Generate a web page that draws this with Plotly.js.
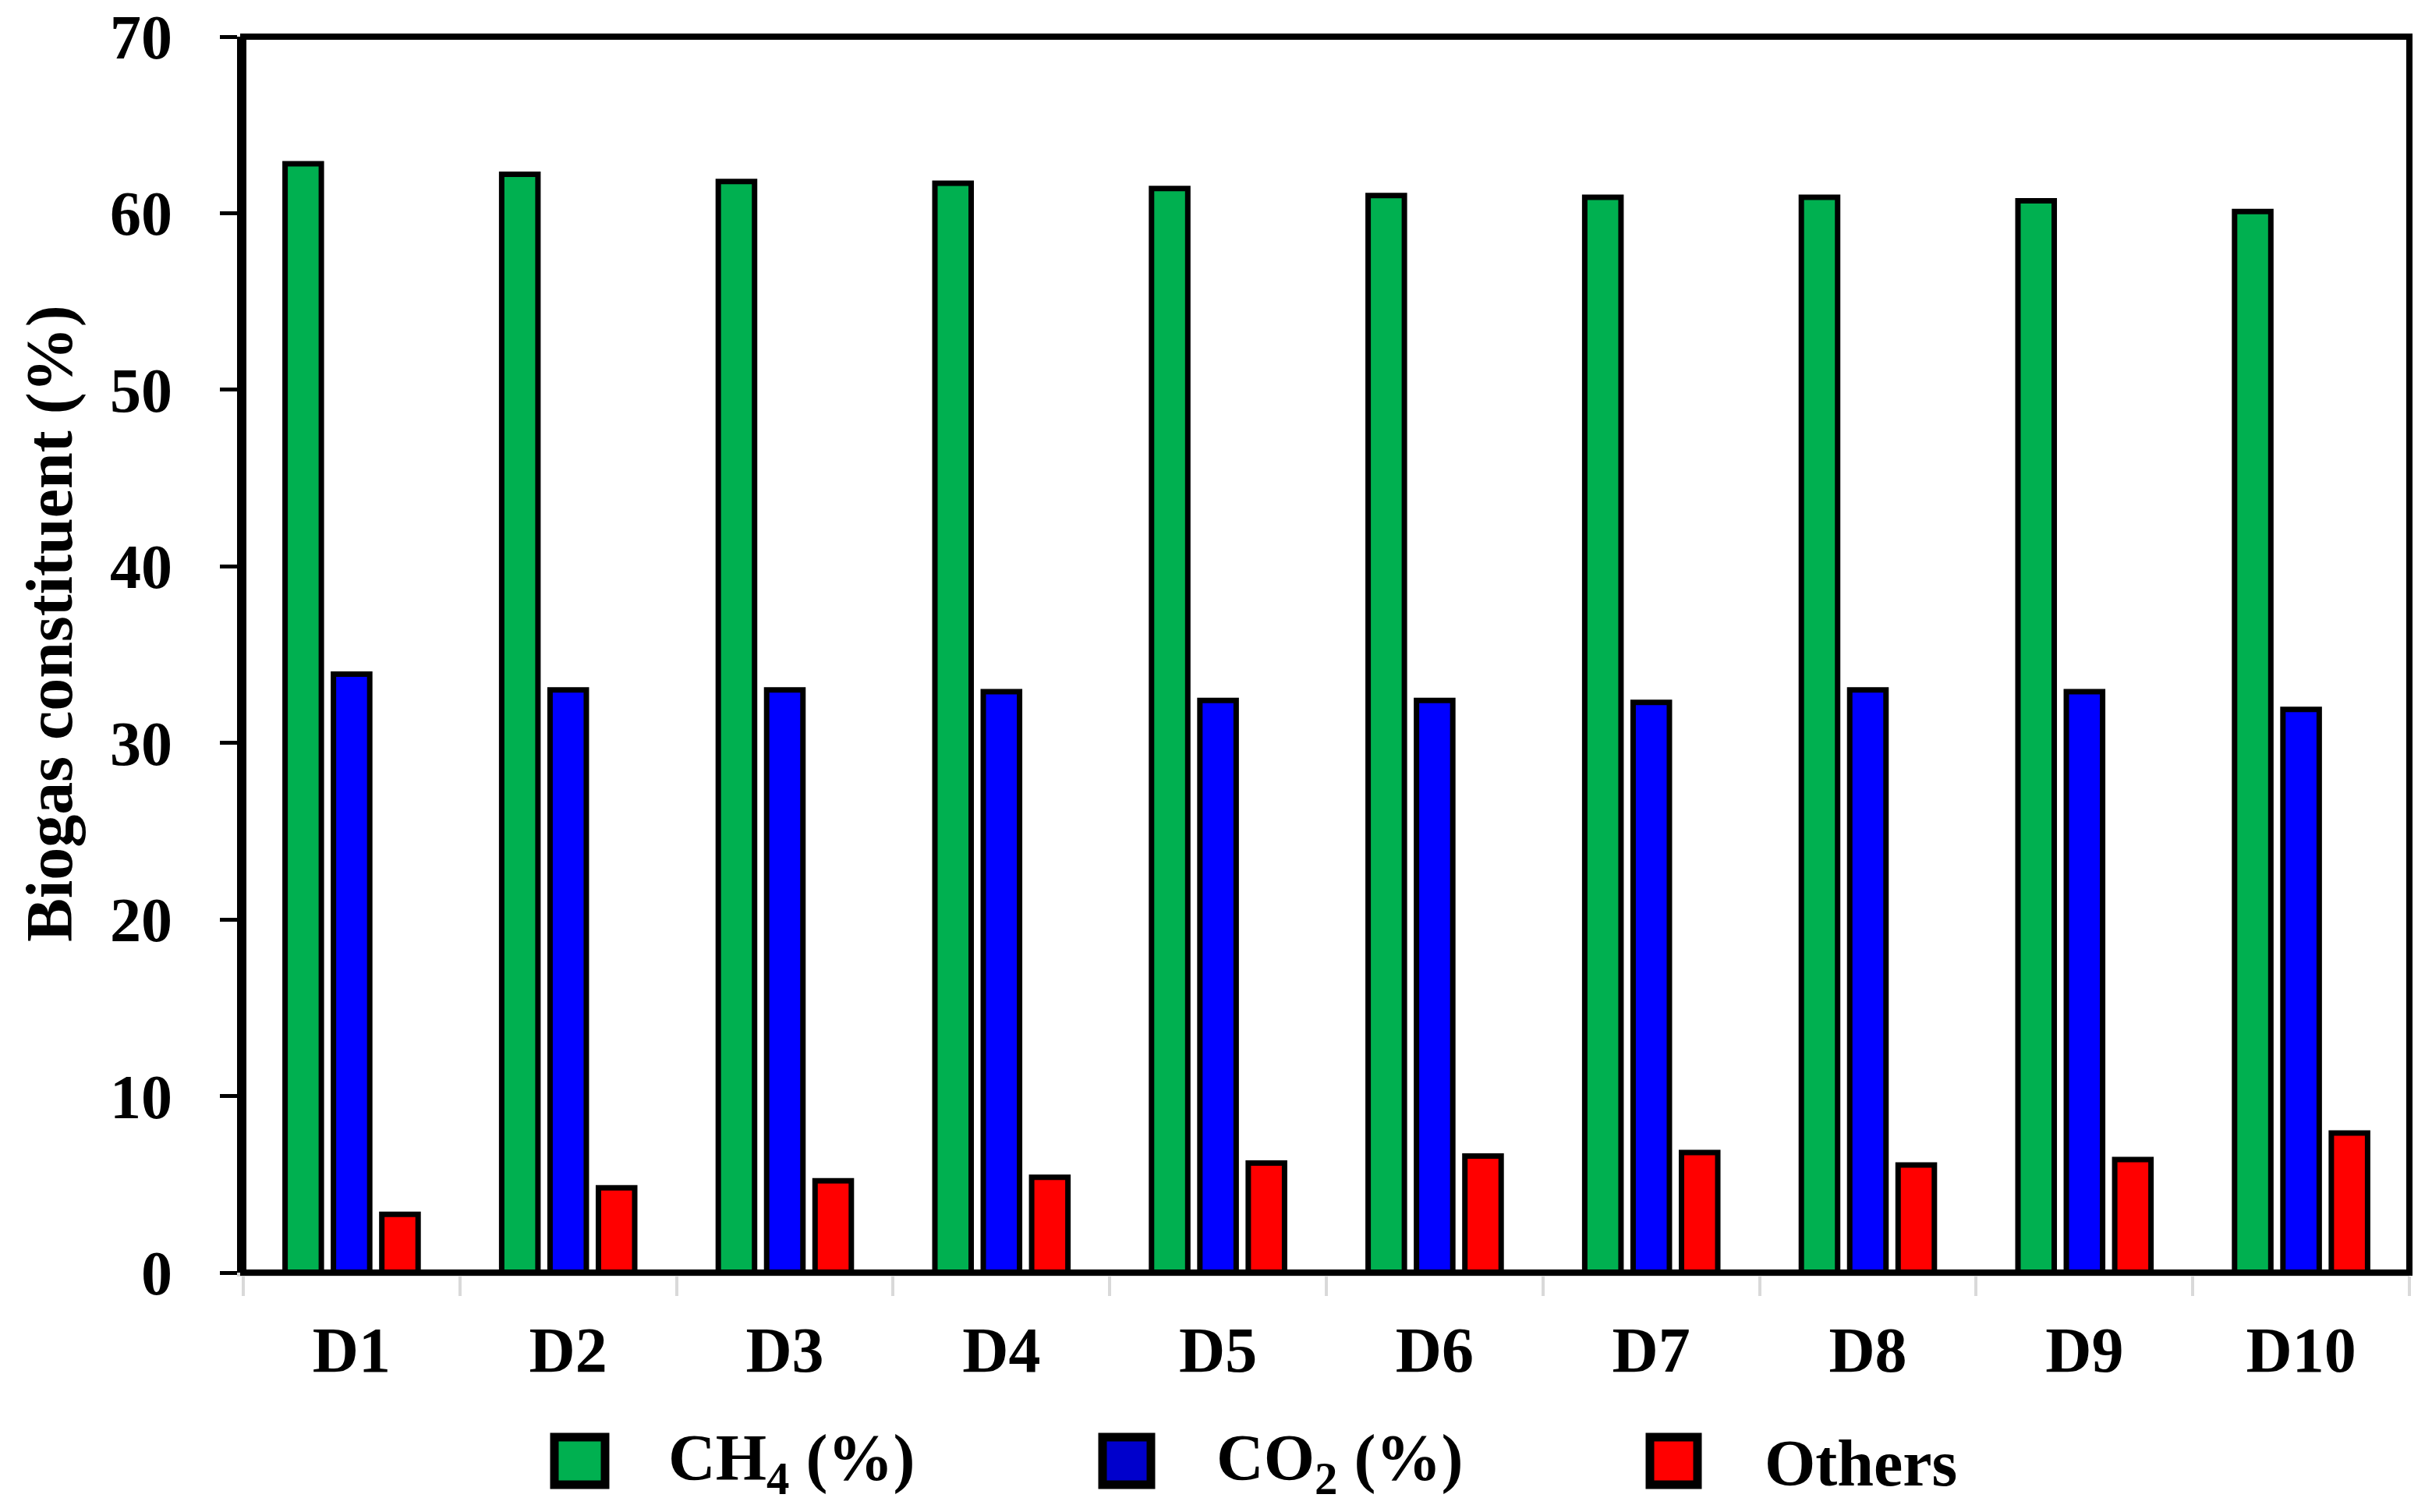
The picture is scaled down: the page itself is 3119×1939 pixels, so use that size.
<!DOCTYPE html>
<html>
<head>
<meta charset="utf-8">
<script src="https://cdn.plot.ly/plotly-3.0.1.min.js"></script>
<style>html,body{margin:0;padding:0;background:#fff;}#chart{width:3119px;height:1939px;}</style>
</head>
<body>
<div id="chart"></div>
<script>
// ---- data ----
const categories = ["D1","D2","D3","D4","D5","D6","D7","D8","D9","D10"];
const ch4 = [62.8, 62.2, 61.8, 61.7, 61.4, 61.0, 60.9, 60.9, 60.7, 60.1];
const co2 = [33.9, 33.0, 33.0, 32.9, 32.4, 32.4, 32.3, 33.0, 32.9, 31.9];
const others = [3.3, 4.8, 5.2, 5.4, 6.2, 6.6, 6.8, 6.1, 6.4, 7.9];
const seriesNames = ["CH<sub>4</sub> (%)", "CO<sub>2</sub> (%)", "Others"];
const yTicks = [0, 10, 20, 30, 40, 50, 60, 70];

const W = 3119, H = 1939;
const L = 312, R = 29, T = 47, B = 307;
const PW = W - L - R, PH = H - T - B;
const px = x => (x - L) / PW;          // pixel -> paper x
const py = y => (H - B - y) / PH;      // pixel -> paper y

const FONT = '"Liberation Serif", "Times New Roman", serif';
const barColors = ["#00B050", "#0000FF", "#FF0000"];
const legendColors = ["#00B050", "#0000CC", "#FF0000"];
const values = [ch4, co2, others];

const traces = values.map((v, i) => ({
  type: "bar",
  x: categories,
  y: v,
  name: seriesNames[i],
  marker: {color: barColors[i], line: {color: "#000", width: 7}},
  hoverinfo: "x+y"
}));

// manual legend (large boxes like the reference)
const legBoxes = [[711, 776], [1414, 1476], [2116, 2177]];
const legText = [855, 1558, 2261];
const shapes = [{
  type: "rect", xref: "paper", yref: "paper", x0: 0, x1: 1, y0: 0, y1: 1,
  line: {color: "#000", width: 8}, layer: "above"
}];
const annotations = [{
  text: "Biogas constituent (%)", xref: "paper", yref: "paper",
  x: px(64), y: py(800), xanchor: "center", yanchor: "middle",
  textangle: -90, showarrow: false,
  font: {family: FONT, size: 84, color: "#000", weight: "bold"}
}];
legBoxes.forEach((b, i) => {
  shapes.push({
    type: "rect", xref: "paper", yref: "paper",
    x0: px(b[0]), x1: px(b[1]), y0: py(1904), y1: py(1843),
    fillcolor: legendColors[i], line: {color: "#000", width: 11}
  });
  annotations.push({
    text: seriesNames[i], xref: "paper", yref: "paper",
    x: px(legText[i]), y: py(1876), xanchor: "left", yanchor: "middle",
    showarrow: false,
    font: {family: FONT, size: 84, color: "#000", weight: "bold"}
  });
});

const layout = {
  width: W, height: H,
  margin: {l: L, r: R, t: T, b: B, pad: 0},
  paper_bgcolor: "#fff", plot_bgcolor: "#fff",
  barmode: "group", bargap: 0.33, bargroupgap: 0.25,
  showlegend: false,
  font: {family: FONT, color: "#000"},
  xaxis: {
    type: "category", categoryorder: "array", categoryarray: categories,
    showline: true, linecolor: "#D9D9D9", linewidth: 5,
    ticks: "outside", tickson: "boundaries", ticklen: 25, tickwidth: 4, tickcolor: "#D9D9D9",
    showgrid: false, zeroline: false,
    tickfont: {family: FONT, size: 82, color: "#000", weight: "bold"},
    ticklabelstandoff: 24
  },
  yaxis: {
    range: [0, 70], tickvals: yTicks, ticktext: yTicks.map(String),
    showline: true, linecolor: "#000", linewidth: 8,
    ticks: "outside", ticklen: 22, tickwidth: 5, tickcolor: "#000",
    showgrid: false, zeroline: false,
    tickfont: {family: FONT, size: 80, color: "#000", weight: "bold"},
    ticklabelstandoff: 45
  },
  shapes: shapes,
  annotations: annotations
};

Plotly.newPlot("chart", traces, layout, {staticPlot: true, displayModeBar: false});
</script>
</body>
</html>
